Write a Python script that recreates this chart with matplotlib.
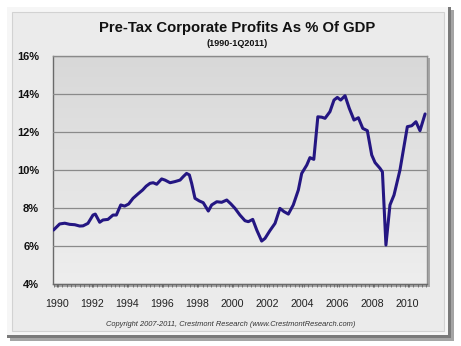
import matplotlib
matplotlib.use("Agg")
import matplotlib.pyplot as plt
import numpy as np
from matplotlib.patches import Rectangle

plt.rcParams['font.family'] = ['Liberation Sans', 'DejaVu Sans']

# Data: (year, % of GDP)
years = [1989.82, 1990.17, 1990.46, 1990.74, 1991.03, 1991.31, 1991.50, 1991.78,
         1992.07, 1992.20, 1992.45, 1992.64, 1992.92, 1993.21, 1993.40, 1993.65,
         1993.87, 1994.10, 1994.35, 1994.63, 1994.90, 1995.10, 1995.32, 1995.50,
         1995.70, 1995.98, 1996.17, 1996.46, 1996.74, 1997.03, 1997.21, 1997.40,
         1997.56, 1997.69, 1997.88, 1998.13, 1998.35, 1998.64, 1998.83, 1999.12,
         1999.40, 1999.69, 1999.92, 2000.16, 2000.44, 2000.73, 2000.92, 2001.17,
         2001.40, 2001.68, 2001.87, 2002.15, 2002.44, 2002.72, 2002.95, 2003.20,
         2003.48, 2003.77, 2003.96, 2004.25, 2004.43, 2004.65, 2004.88, 2005.10,
         2005.29, 2005.57, 2005.80, 2005.99, 2006.18, 2006.43, 2006.67, 2006.94,
         2007.19, 2007.44, 2007.70, 2007.95, 2008.14, 2008.42, 2008.56, 2008.76,
         2008.99, 2009.22, 2009.56, 2009.98, 2010.23, 2010.47, 2010.70, 2010.99]
profits = [6.84, 7.16, 7.20, 7.14, 7.12, 7.05, 7.06, 7.19,
           7.63, 7.68, 7.25, 7.37, 7.40, 7.63, 7.63, 8.16,
           8.10, 8.21, 8.51, 8.74, 8.95, 9.15, 9.30, 9.33,
           9.25, 9.53, 9.47, 9.33, 9.39, 9.47, 9.65, 9.82,
           9.74, 9.30, 8.51, 8.37, 8.28, 7.84, 8.16, 8.33,
           8.30, 8.42, 8.22, 7.98, 7.63, 7.33, 7.28, 7.40,
           6.84, 6.26, 6.40, 6.81, 7.19, 7.98, 7.81, 7.68,
           8.16, 8.95, 9.82, 10.26, 10.65, 10.56, 12.80, 12.78,
           12.72, 13.07, 13.68, 13.82, 13.68, 13.91, 13.25, 12.63,
           12.75, 12.19, 12.07, 10.79, 10.39, 10.09, 9.90, 6.05,
           8.16, 8.68, 10.00, 12.28, 12.33, 12.54, 12.07, 12.95]
year_ticks = list(range(1990, 2011, 2))
pct_ticks = [4, 6, 8, 10, 12, 14, 16]

W, H = 461, 346
fig = plt.figure(figsize=(W / 100, H / 100), dpi=100)
fig.patch.set_facecolor('white')

# outer panel with bevel/shadow
def fr(x, y, w, h, z, **kw):
    return Rectangle((x / W, 1 - (y + h) / H), w / W, h / H, transform=fig.transFigure,
                     zorder=z, **kw)

fig.patches.append(fr(10, 10, 444, 331, -5, facecolor='#a5a5a5', edgecolor='none'))
fig.patches.append(fr(7, 7, 444, 331, -4, facecolor='#7a7a7a', edgecolor='none'))
fig.patches.append(fr(7, 7, 441, 328, -3, facecolor='#f6f6f6', edgecolor='none'))
fig.patches.append(fr(12, 12, 432, 319, -2, facecolor='#ebebeb', edgecolor='#d2d2d2', lw=0.8))
# plot area shadow
fig.patches.append(fr(55, 58, 375, 229, -1, facecolor='#a8a8a8', edgecolor='none'))

ax = fig.add_axes([53 / W, 1 - 284 / H, (427 - 53) / W, (284 - 56) / H])
ax.set_zorder(5)
ax.set_facecolor('#e2e2e2')
# gradient background
grad = np.linspace(0, 1, 256).reshape(-1, 1)
ax.imshow(grad, extent=[0, 1, 0, 1], transform=ax.transAxes, aspect='auto',
          cmap=matplotlib.colors.LinearSegmentedColormap.from_list('g', ['#d8d8d8', '#eeeeee']),
          origin='upper', zorder=0)

ax.plot(years, profits, color='#241682', lw=2.2, solid_capstyle='round',
        solid_joinstyle='round', zorder=3)

ax.set_xlim(1989.79, 2011.1)
ax.set_ylim(4, 16)
ax.set_yticks(pct_ticks)
ax.set_yticklabels([f'{v}%' for v in pct_ticks], fontweight='bold', fontsize=8, color='#111111')
ax.set_xticks(year_ticks)
ax.set_xticklabels([str(y) for y in year_ticks], fontsize=7.7, color='#222222')
ax.set_xticks(np.arange(1989.82, 2011.1, 0.25), minor=True)
ax.tick_params(axis='x', which='major', length=2.5, color='#666666', pad=8.5)
ax.tick_params(axis='x', which='minor', length=2.5, color='#666666')
ax.tick_params(axis='y', length=0, pad=10)
ax.grid(axis='y', color='#8a8a8a', lw=0.9, zorder=1)
ax.set_axisbelow(False)
for s in ax.spines.values():
    s.set_color('#8f8f8f')
    s.set_linewidth(1.0)
ax.spines['bottom'].set_color('#6a6a6a')
ax.spines['left'].set_color('#6a6a6a')

fig.text(0.514, 1 - 28 / H, 'Pre-Tax Corporate Profits As % Of GDP', ha='center', va='center',
         fontsize=10.7, fontweight='bold', color='#111111')
fig.text(0.514, 1 - 44 / H, '(1990-1Q2011)', ha='center', va='center',
         fontsize=6.5, fontweight='bold', color='#111111')
fig.text(0.5, 1 - 324 / H, 'Copyright 2007-2011, Crestmont Research (www.CrestmontResearch.com)',
         ha='center', va='center', fontsize=5.4, style='italic', color='#333333')

fig.savefig('out.png', dpi=100)
